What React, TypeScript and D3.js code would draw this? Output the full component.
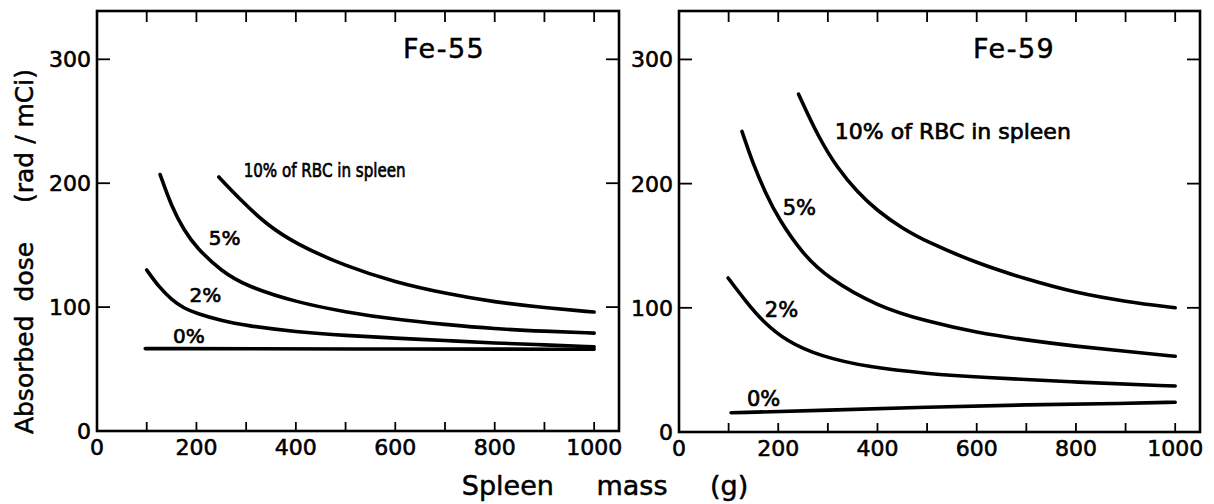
import React from "react";
import * as d3 from "d3";

type Pt = [number, number];

// Fe-55 panel (spleen mass g, absorbed dose rad/mCi)
const fe55_10: Pt[] = [[245,205],[290,186],[340,167],[400,151],[500,133],[600,120],[700,111],[800,104],[900,99.5],[1000,96]];
const fe55_5: Pt[] = [[127,207],[150,181],[175,162],[200,148],[250,129],[300,117],[400,104],[500,96],[600,90],[700,86],[800,82.5],[900,80.5],[1000,79]];
const fe55_2: Pt[] = [[100,130],[125,116],[150,106],[175,99],[200,95],[250,89],[300,85],[400,80],[500,77],[600,75],[700,73],[800,71],[900,69.5],[1000,68]];
const fe55_0: Pt[] = [[97,66.5],[500,66.2],[1000,66]];

// Fe-59 panel
const fe59_10: Pt[] = [[241,272],[280,238],[320,212],[360,193],[400,178],[450,164],[500,153],[600,136],[700,123],[800,112],[900,105],[1000,100]];
const fe59_5: Pt[] = [[127,242],[150,215],[175,192],[200,172],[250,143],[300,124],[400,101],[500,89],[600,80],[700,74],[800,69],[900,65],[1000,61]];
const fe59_2: Pt[] = [[99,124],[137,104],[169,89],[217,73],[284,61],[384,52],[500,47],[606,44],[807,40],[1000,37]];
const fe59_0: Pt[] = [[105,15.5],[300,17.5],[500,20],[700,22],[900,23],[1000,24]];

const xTickLabels = [0, 200, 400, 600, 800, 1000];
const xTicks = [100, 200, 300, 400, 500, 600, 700, 800, 900, 1000];
const yTickLabels = [0, 100, 200, 300];
const yTicks = [100, 200, 300];

const panels = [
  {
    title: "Fe-55",
    left: 97, right: 619, top: 11, bottom: 431,
    titleX: 403, titleY: 58,
    series: [fe55_10, fe55_5, fe55_2, fe55_0],
    labels: [
      { t: "10% of RBC in spleen", v: [295, 205], fs: 19, len: 162 },
      { t: "5%", v: [225, 150], fs: 20, len: 0 },
      { t: "2%", v: [186, 104], fs: 20, len: 0 },
      { t: "0%", v: [153, 71], fs: 20, len: 0 },
    ],
  },
  {
    title: "Fe-59",
    left: 679, right: 1200, top: 11, bottom: 432,
    titleX: 973, titleY: 58,
    series: [fe59_10, fe59_5, fe59_2, fe59_0],
    labels: [
      { t: "10% of RBC in spleen", v: [314, 236], fs: 22, len: 0 },
      { t: "5%", v: [209, 175], fs: 21, len: 0 },
      { t: "2%", v: [173, 93], fs: 21, len: 0 },
      { t: "0%", v: [137, 21], fs: 21, len: 0 },
    ],
  },
];

const FONT = "'DejaVu Sans', 'Liberation Sans', sans-serif";

function Panel({ p }: { p: (typeof panels)[number] }) {
  const x = d3.scaleLinear().domain([0, 1050]).range([p.left, p.right]);
  const y = d3.scaleLinear().domain([0, 339]).range([p.bottom, p.top]);
  const line = d3
    .line<Pt>()
    .x((d) => x(d[0]))
    .y((d) => y(d[1]))
    .curve(d3.curveBasis);
  const tl = 11;
  return (
    <g>
      <rect
        x={p.left}
        y={p.top}
        width={p.right - p.left}
        height={p.bottom - p.top}
        fill="none"
        stroke="#000"
        strokeWidth={2.6}
      />
      {xTicks.map((t) => (
        <g key={"xt" + t}>
          <line x1={x(t)} x2={x(t)} y1={p.bottom} y2={p.bottom - tl + 2} stroke="#000" strokeWidth={1.8} />
          <line x1={x(t)} x2={x(t)} y1={p.top} y2={p.top + tl} stroke="#000" strokeWidth={1.8} />
        </g>
      ))}
      {yTicks.map((t) => (
        <g key={"yt" + t}>
          <line x1={p.left} x2={p.left + tl + 2} y1={y(t)} y2={y(t)} stroke="#000" strokeWidth={1.8} />
          <line x1={p.right} x2={p.right - tl - 2} y1={y(t)} y2={y(t)} stroke="#000" strokeWidth={1.8} />
        </g>
      ))}
      {xTickLabels.map((t) => (
        <text
          key={"xl" + t}
          x={x(t)}
          y={p.bottom + 24}
          textAnchor="middle"
          fontSize={22}
          fontFamily={FONT}
          stroke="#000"
          strokeWidth={0.6}
        >
          {t}
        </text>
      ))}
      {yTickLabels.map((t) => (
        <text
          key={"yl" + t}
          x={p.left - 6}
          y={y(t)}
          dy="0.36em"
          textAnchor="end"
          fontSize={22}
          fontFamily={FONT}
          stroke="#000"
          strokeWidth={0.6}
        >
          {t}
        </text>
      ))}
      <text
        x={p.titleX}
        y={p.titleY}
        fontSize={27}
        fontFamily={FONT}
        letterSpacing={1.5}
        stroke="#000"
        strokeWidth={0.5}
      >
        {p.title}
      </text>
      {p.series.map((s, i) => (
        <path
          key={"s" + i}
          d={line(s) || ""}
          fill="none"
          stroke="#000"
          strokeWidth={3.6}
          strokeLinecap="round"
        />
      ))}
      {p.labels.map((l, i) => (
        <text
          key={"l" + i}
          x={x(l.v[0])}
          y={y(l.v[1])}
          fontSize={l.fs}
          fontFamily={FONT}
          stroke="#000"
          strokeWidth={0.7}
          {...(l.len ? { textLength: l.len, lengthAdjust: "spacingAndGlyphs" } : {})}
        >
          {l.t}
        </text>
      ))}
    </g>
  );
}

export default function App() {
  return (
    <svg
      width={1214}
      height={504}
      style={{ position: "absolute", left: 0, top: 0, background: "#fff" }}
    >
      <rect width={1214} height={504} fill="#fff" />
      {panels.map((p) => (
        <Panel key={p.title} p={p} />
      ))}
      <text
        x={605}
        y={495}
        textAnchor="middle"
        fontSize={27}
        fontFamily={FONT}
        wordSpacing={34}
        stroke="#000"
        strokeWidth={0.5}
      >
        Spleen mass (g)
      </text>
      <text
        transform="translate(33,338) rotate(-90)"
        textAnchor="middle"
        fontSize={25}
        fontFamily={FONT}
        wordSpacing={6}
        stroke="#000"
        strokeWidth={0.5}
      >
        Absorbed dose
      </text>
      <text
        transform="translate(33,136) rotate(-90)"
        textAnchor="middle"
        fontSize={25}
        fontFamily={FONT}
        stroke="#000"
        strokeWidth={0.5}
      >
        (rad / mCi)
      </text>
    </svg>
  );
}
